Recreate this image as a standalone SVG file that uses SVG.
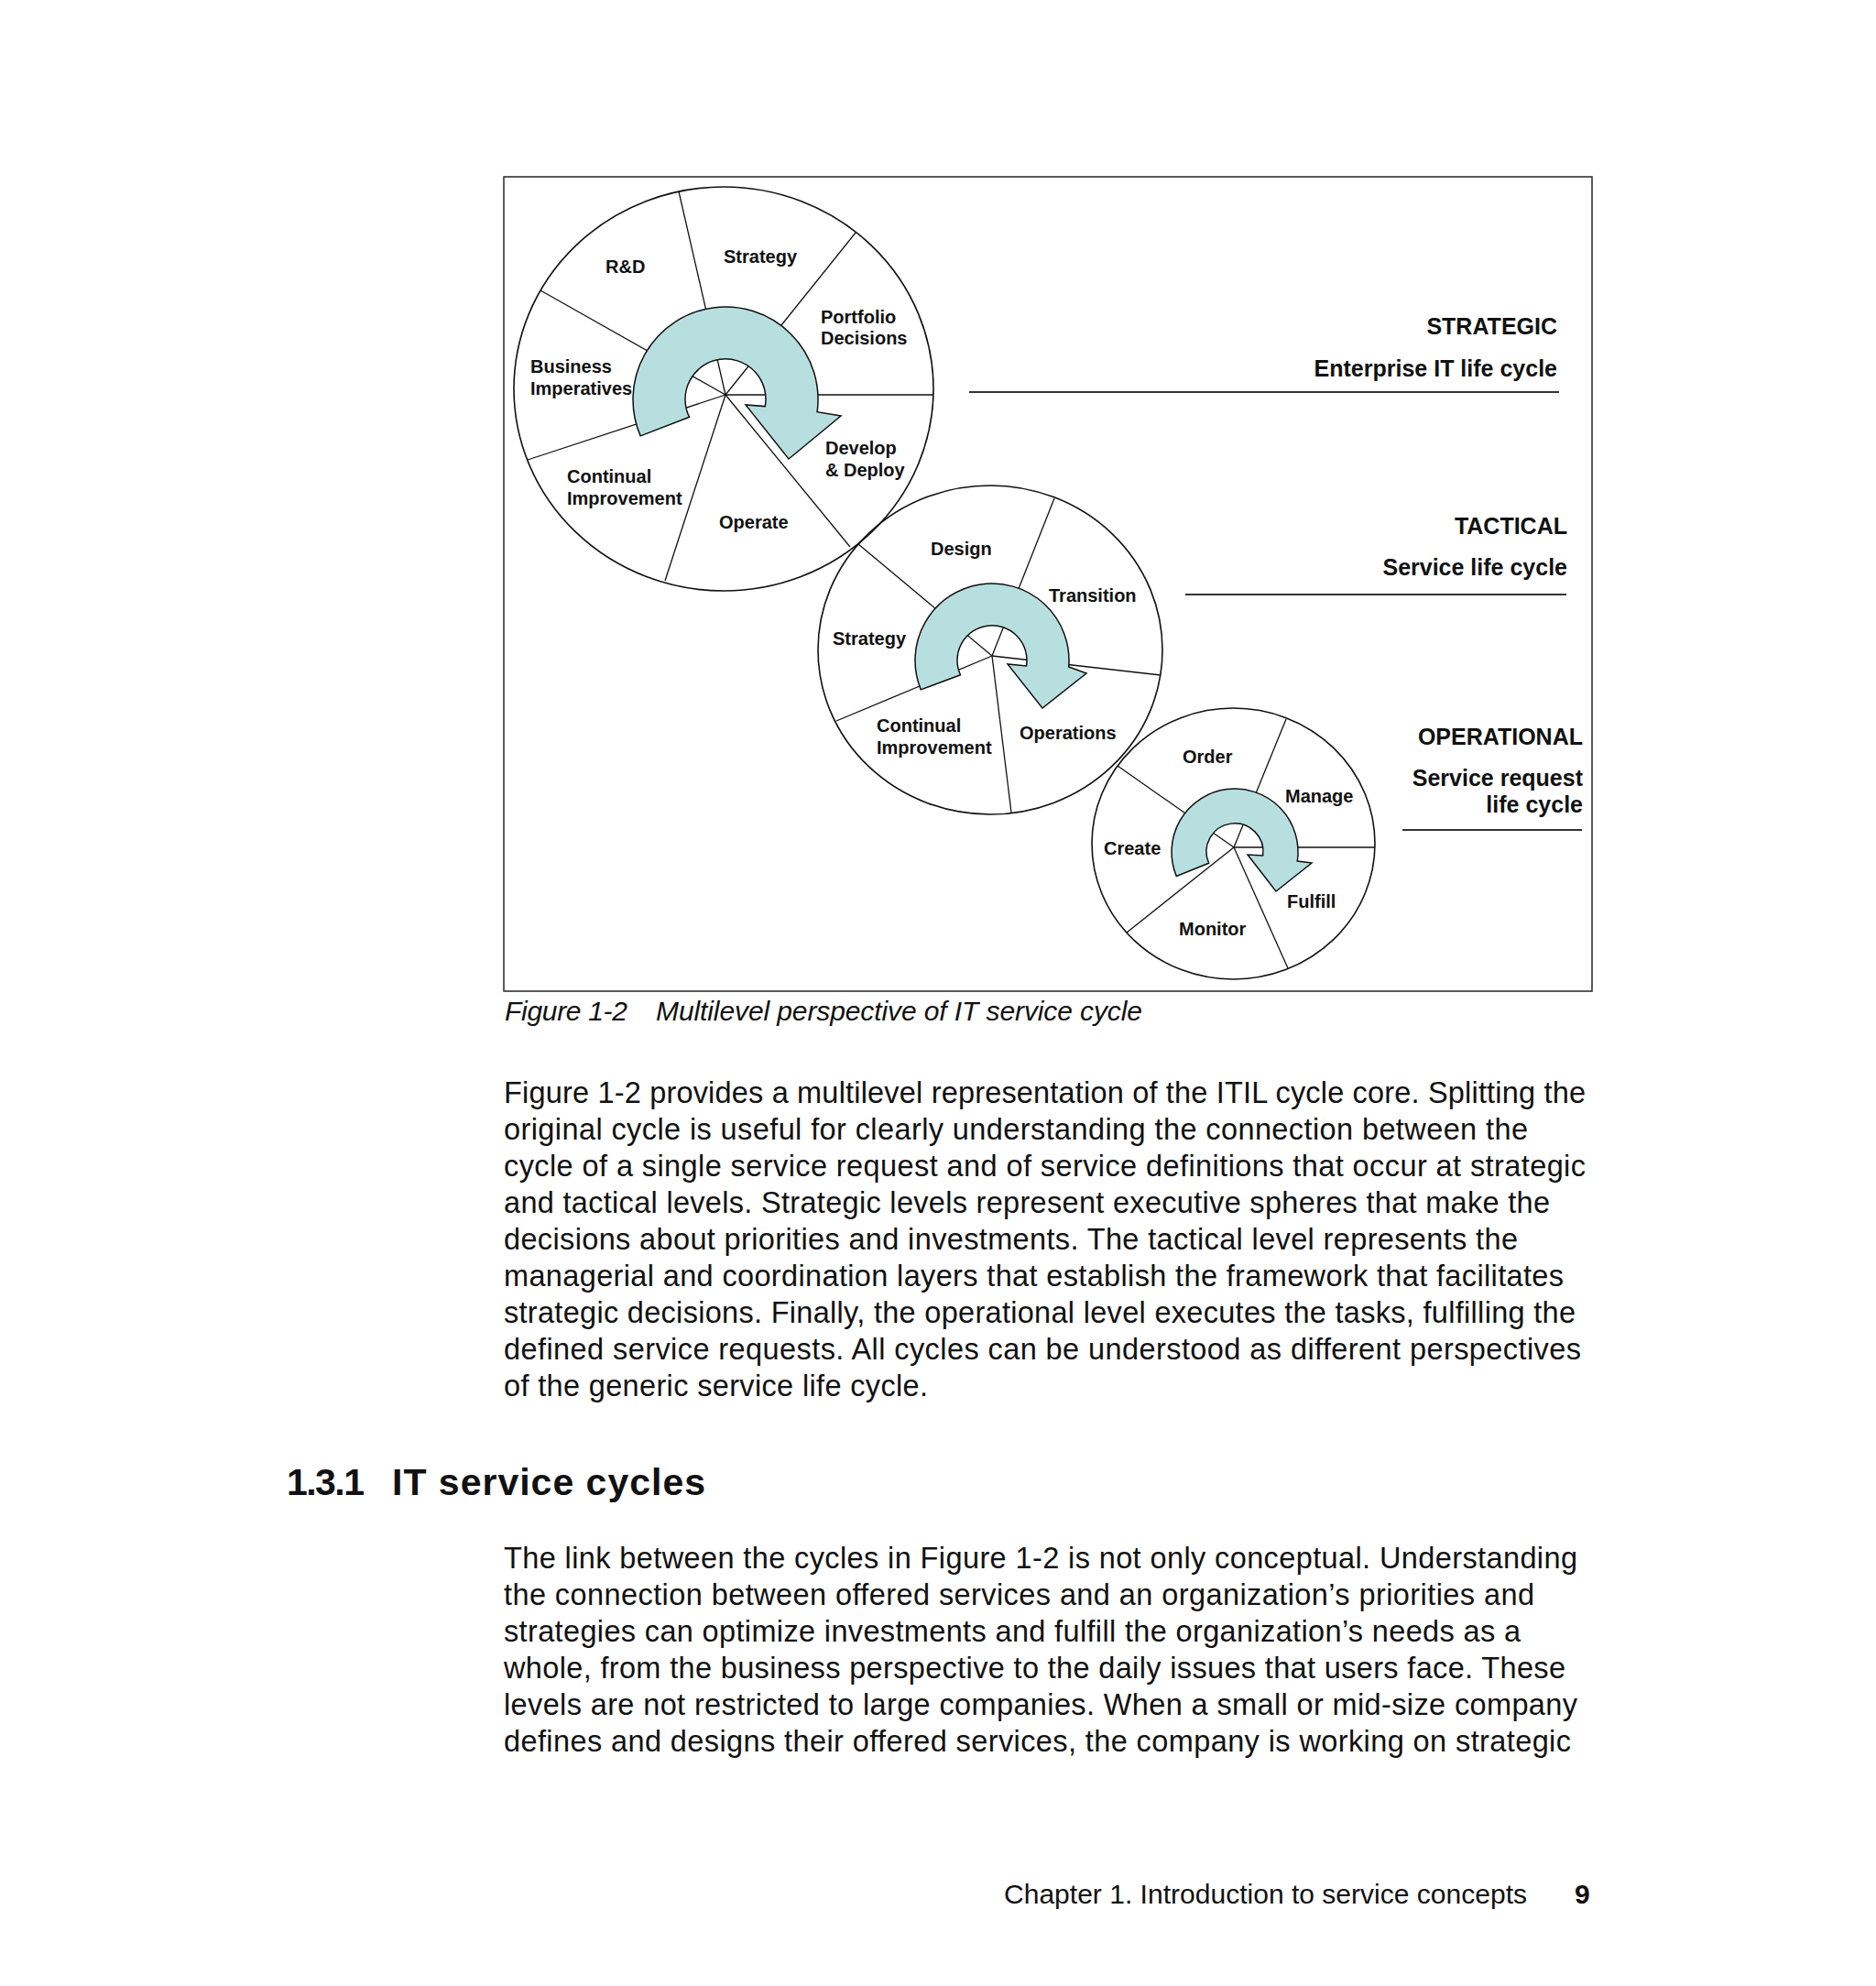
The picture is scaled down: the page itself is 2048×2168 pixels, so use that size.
<svg xmlns="http://www.w3.org/2000/svg" width="2048" height="2168" viewBox="0 0 2048 2168">
<style>
.circ{fill:none;stroke:#111;stroke-width:1.6}
.spoke{stroke:#111;stroke-width:1.3;fill:none}
.arrow{fill:#b8dfe0;stroke:#111;stroke-width:1.5;stroke-linejoin:miter}
.lbl{font-family:"Liberation Sans",Arial,sans-serif;font-weight:bold;font-size:20px;fill:#111}
.lvl{font-family:"Liberation Sans",Arial,sans-serif;font-weight:bold;font-size:25px;fill:#111;text-anchor:end}
.rule{stroke:#333;stroke-width:2}
.body{font-family:"Liberation Sans",Arial,sans-serif;font-size:32.5px;fill:#111}
.cap{font-family:"Liberation Sans",Arial,sans-serif;font-style:italic;font-size:30px;fill:#111}
.head{font-family:"Liberation Sans",Arial,sans-serif;font-weight:bold;font-size:41px;fill:#111}
</style>
<rect x="0" y="0" width="2048" height="2168" fill="#ffffff"/>
<rect id="figure-frame" x="550" y="193" width="1188" height="889" fill="none" stroke="#333" stroke-width="1.6"/>

<g id="cycle-strategic">
  <ellipse class="circ" cx="790" cy="424.5" rx="229" ry="220.5"/>
  <g class="spoke">
    <line x1="792" y1="431" x2="741" y2="209"/>
    <line x1="792" y1="431" x2="934" y2="254"/>
    <line x1="792" y1="431" x2="1018" y2="431"/>
    <line x1="792" y1="431" x2="928" y2="597"/>
    <line x1="792" y1="431" x2="726" y2="634"/>
    <line x1="792" y1="431" x2="576" y2="502"/>
    <line x1="792" y1="431" x2="590" y2="317"/>
  </g>
  <path class="arrow" d="M 699.2 475.9 A 101 101 0 1 1 892.1 449.7 L 918 454 L 861 501 L 814 442 L 835.3 443.6 A 44 44 0 1 0 752.5 455.3 Z"/>
  <text class="lbl" x="661" y="298">R&amp;D</text>
  <text class="lbl" x="790" y="287">Strategy</text>
  <text class="lbl" x="896" y="353">Portfolio</text>
  <text class="lbl" x="896" y="376">Decisions</text>
  <text class="lbl" x="579" y="407">Business</text>
  <text class="lbl" x="579" y="431">Imperatives</text>
  <text class="lbl" x="901" y="496">Develop</text>
  <text class="lbl" x="901" y="520">&amp; Deploy</text>
  <text class="lbl" x="619" y="527">Continual</text>
  <text class="lbl" x="619" y="551">Improvement</text>
  <text class="lbl" x="785" y="577">Operate</text>
</g>

<g id="cycle-tactical">
  <ellipse class="circ" cx="1081" cy="709.5" rx="188" ry="179.5"/>
  <g class="spoke">
    <line x1="1083" y1="716" x2="937" y2="594"/>
    <line x1="1083" y1="716" x2="1151" y2="544"/>
    <line x1="1083" y1="716" x2="1267" y2="737"/>
    <line x1="1083" y1="716" x2="1104" y2="887"/>
    <line x1="1083" y1="716" x2="913" y2="787"/>
  </g>
  <path class="arrow" d="M 1005.3 752.9 A 84 84 0 1 1 1166.7 728 L 1186 735 L 1138 773 L 1100 725 L 1120.5 726.9 A 38 38 0 1 0 1048.5 736.8 Z"/>
  <text class="lbl" x="1016" y="606">Design</text>
  <text class="lbl" x="1145" y="657">Transition</text>
  <text class="lbl" x="909" y="704">Strategy</text>
  <text class="lbl" x="957" y="799">Continual</text>
  <text class="lbl" x="957" y="823">Improvement</text>
  <text class="lbl" x="1113" y="807">Operations</text>
</g>

<g id="cycle-operational">
  <ellipse class="circ" cx="1346.5" cy="921" rx="154.5" ry="148"/>
  <g class="spoke">
    <line x1="1347" y1="925" x2="1220" y2="836"/>
    <line x1="1347" y1="925" x2="1404" y2="785"/>
    <line x1="1347" y1="925" x2="1501" y2="925"/>
    <line x1="1347" y1="925" x2="1406" y2="1057"/>
    <line x1="1347" y1="925" x2="1230" y2="1018"/>
  </g>
  <path class="arrow" d="M 1284.3 956.5 A 69 69 0 1 1 1416.3 940.1 L 1432 942 L 1393 973 L 1362 933 L 1378.7 934 A 31 31 0 1 0 1319.6 942.3 Z"/>
  <text class="lbl" x="1291" y="833">Order</text>
  <text class="lbl" x="1403" y="876">Manage</text>
  <text class="lbl" x="1205" y="933">Create</text>
  <text class="lbl" x="1405" y="991">Fulfill</text>
  <text class="lbl" x="1287" y="1021">Monitor</text>
</g>

<g id="level-strategic">
  <text class="lvl" x="1700" y="365">STRATEGIC</text>
  <text class="lvl" x="1700" y="411">Enterprise IT life cycle</text>
</g>
<g id="level-tactical">
  <text class="lvl" x="1711" y="583">TACTICAL</text>
  <text class="lvl" x="1711" y="628">Service life cycle</text>
</g>
<g id="level-operational">
  <text class="lvl" x="1728" y="813">OPERATIONAL</text>
  <text class="lvl" x="1728" y="858">Service request</text>
  <text class="lvl" x="1728" y="887">life cycle</text>
</g>

<g id="connectors">
  <line class="rule" x1="1058" y1="428" x2="1702" y2="428"/>
  <line class="rule" x1="1294" y1="649" x2="1710" y2="649"/>
  <line class="rule" x1="1531" y1="906" x2="1727" y2="906"/>
</g>

<g id="caption">
  <text class="cap" x="551" y="1114" textLength="134" lengthAdjust="spacing">Figure 1-2</text>
  <text class="cap" x="716" y="1114" textLength="531" lengthAdjust="spacing">Multilevel perspective of IT service cycle</text>
</g>

<g id="paragraph-1" class="body">
  <text x="550" y="1204" textLength="1181" lengthAdjust="spacing">Figure 1-2 provides a multilevel representation of the ITIL cycle core. Splitting the</text>
  <text x="550" y="1244" textLength="1118" lengthAdjust="spacing">original cycle is useful for clearly understanding the connection between the</text>
  <text x="550" y="1284" textLength="1181" lengthAdjust="spacing">cycle of a single service request and of service definitions that occur at strategic</text>
  <text x="550" y="1324" textLength="1142" lengthAdjust="spacing">and tactical levels. Strategic levels represent executive spheres that make the</text>
  <text x="550" y="1364" textLength="1107" lengthAdjust="spacing">decisions about priorities and investments. The tactical level represents the</text>
  <text x="550" y="1404" textLength="1157" lengthAdjust="spacing">managerial and coordination layers that establish the framework that facilitates</text>
  <text x="550" y="1444" textLength="1170" lengthAdjust="spacing">strategic decisions. Finally, the operational level executes the tasks, fulfilling the</text>
  <text x="550" y="1484" textLength="1176" lengthAdjust="spacing">defined service requests. All cycles can be understood as different perspectives</text>
  <text x="550" y="1524" textLength="463" lengthAdjust="spacing">of the generic service life cycle.</text>
</g>

<g id="heading">
  <text class="head" x="313" y="1632" textLength="85" lengthAdjust="spacing">1.3.1</text>
  <text class="head" x="428" y="1632" textLength="342" lengthAdjust="spacing">IT service cycles</text>
</g>

<g id="paragraph-2" class="body">
  <text x="550" y="1712" textLength="1172" lengthAdjust="spacing">The link between the cycles in Figure 1-2 is not only conceptual. Understanding</text>
  <text x="550" y="1752" textLength="1125" lengthAdjust="spacing">the connection between offered services and an organization’s priorities and</text>
  <text x="550" y="1792" textLength="1110" lengthAdjust="spacing">strategies can optimize investments and fulfill the organization’s needs as a</text>
  <text x="550" y="1832" textLength="1159" lengthAdjust="spacing">whole, from the business perspective to the daily issues that users face. These</text>
  <text x="550" y="1872" textLength="1172" lengthAdjust="spacing">levels are not restricted to large companies. When a small or mid-size company</text>
  <text x="550" y="1912" textLength="1165" lengthAdjust="spacing">defines and designs their offered services, the company is working on strategic</text>
</g>

<g id="footer">
  <text x="1096" y="2078" font-family="Liberation Sans, Arial, sans-serif" font-size="30" fill="#111" textLength="571" lengthAdjust="spacing">Chapter 1. Introduction to service concepts</text>
  <text x="1719" y="2078" font-family="Liberation Sans, Arial, sans-serif" font-weight="bold" font-size="30" fill="#111">9</text>
</g>
</svg>
